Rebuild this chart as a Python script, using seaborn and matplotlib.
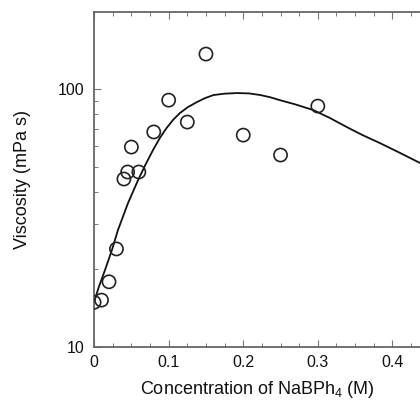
# Viscosity vs NaBPh4 concentration, log y axis
import matplotlib
matplotlib.use('Agg')
import matplotlib.pyplot as plt
import matplotlib.ticker as mticker
import pandas as pd
import seaborn as sns

# measured points
conc = [0.0, 0.01, 0.02, 0.03, 0.04, 0.045, 0.05, 0.06, 0.08, 0.1, 0.125, 0.15, 0.2, 0.25, 0.3]
visc = [14.9, 15.2, 17.9, 24.0, 44.8, 47.7, 59.6, 47.7, 68.2, 90.6, 74.5, 136.7, 66.3, 55.5, 85.9]

# fitted curve
fit_conc = [0.0, 0.007, 0.0147, 0.024, 0.032, 0.0456, 0.059, 0.069, 0.079, 0.088, 0.097,
            0.106, 0.115, 0.126, 0.138, 0.149, 0.16, 0.175, 0.192, 0.208, 0.223, 0.236,
            0.249, 0.27, 0.294, 0.316, 0.339, 0.36, 0.383, 0.41, 0.437]
fit_visc = [15.0, 17.3, 19.9, 23.8, 28.4, 36.2, 44.4, 51.0, 58.0, 64.5, 70.5,
            76.0, 80.7, 85.2, 89.1, 92.3, 94.8, 96.0, 96.5, 96.2, 94.8, 93.0,
            90.6, 87.2, 82.9, 77.3, 71.2, 66.3, 61.8, 56.6, 51.7]

xticks = [0, 0.1, 0.2, 0.3, 0.4]
xtick_labels = ['0', '0.1', '0.2', '0.3', '0.4']
yticks = [10, 100]
ytick_labels = ['10', '100']

df_pts = pd.DataFrame({'conc': conc, 'visc': visc})
df_fit = pd.DataFrame({'conc': fit_conc, 'visc': fit_visc})

sns.set_style('ticks')
plt.rcParams['font.family'] = ['Liberation Sans', 'DejaVu Sans']
plt.rcParams['mathtext.default'] = 'regular'

fig = plt.figure(figsize=(4.2, 4.0), dpi=100)
ax = fig.add_axes([0.224, 0.1325, 0.776, 0.8375])

sns.lineplot(data=df_fit, x='conc', y='visc', color='#111111', linewidth=1.3, ax=ax)
sns.scatterplot(data=df_pts, x='conc', y='visc', marker='o', s=90,
                facecolor='none', edgecolor='#222222', linewidth=1.2, ax=ax, zorder=3)

ax.set_yscale('log')
ax.set_xlim(0, 0.437)
ax.set_ylim(10, 199)

ax.set_xticks(xticks)
ax.set_xticklabels(xtick_labels)
ax.xaxis.set_minor_locator(mticker.MultipleLocator(0.025))
ax.set_yticks(yticks)
ax.set_yticklabels(ytick_labels)
ax.yaxis.set_minor_locator(mticker.LogLocator(base=10, subs=range(2, 10)))
ax.yaxis.set_minor_formatter(mticker.NullFormatter())

ax.tick_params(which='both', direction='in', top=True, right=False, colors='#777777',
               labelcolor='#111111', labelsize=11.5)
ax.tick_params(which='major', length=5, width=0.8)
ax.tick_params(which='minor', length=3, width=0.7)
ax.tick_params(axis='x', pad=6)
ax.tick_params(axis='y', pad=7)

for side in ['left', 'bottom', 'top']:
    ax.spines[side].set_color('#666666')
    ax.spines[side].set_linewidth(1.3)
ax.spines['right'].set_visible(False)

ax.set_xlabel('Concentration of NaBPh$_4$ (M)', fontsize=13, color='#111111', labelpad=6)
ax.set_ylabel('Viscosity (mPa s)', fontsize=13, color='#111111', labelpad=19)

plt.savefig('out.png', dpi=100)
